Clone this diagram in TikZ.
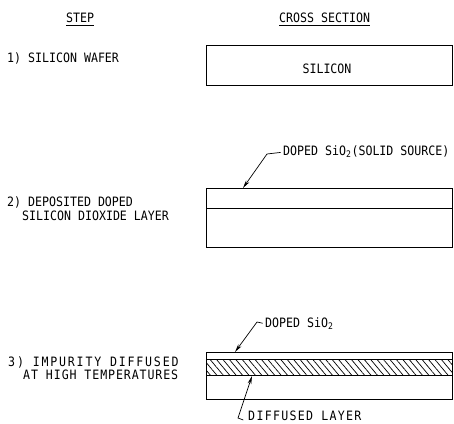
\documentclass[tikz,border=0pt]{standalone}
\usepackage{fontspec}
\setmainfont[FakeStretch=0.9]{DejaVu Sans Mono}
\usetikzlibrary{arrows.meta,patterns.meta}

\tikzset{
  lbl/.style={anchor=base west,inner sep=0pt,font=\fontsize{11}{12}\selectfont},
  layer/.style={draw,line width=0.8pt},
  leader/.style={line width=0.6pt,-{Stealth[length=7pt,width=3.2pt]}},
}

\begin{document}
\begin{tikzpicture}[x=0.03cm,y=-0.03cm]
  \useasboundingbox (0,0) rectangle (454,423);

  % Headings
  \node[lbl] (step) at (66,23) {\underline{STEP}};
  \node[lbl] (cross) at (279,23) {\underline{CROSS SECTION}};

  % Step 1: wafer
  \node[lbl] (s1) at (7,63) {1) SILICON WAFER};
  \draw[layer] (206,45) rectangle (452,85);
  \node[lbl,anchor=base] (si) at (327,74) {SILICON};

  % Step 2: deposited oxide
  \node[lbl] (s2a) at (7,206) {2) DEPOSITED DOPED};
  \node[lbl] (s2b) at (22,220) {SILICON DIOXIDE LAYER};
  \draw[layer] (206,188) rectangle (452,247);
  \draw[layer] (206,208) -- (452,208);
  \node[lbl] (ox2) at (283,155) {DOPED SiO\textsubscript{2}(SOLID SOURCE)};
  \coordinate (k2) at (267,154);
  \coordinate (tip2) at (243,188);
  \draw[leader] ([xshift=-2pt,yshift=-1pt]ox2.west) -- (k2) -- (tip2);

  % Step 3: diffusion
  \node[lbl,font={\fontsize{11}{12}\selectfont\addfontfeatures{LetterSpace=14}}] (s3a) at (8,366) {3) IMPURITY DIFFUSED};
  \node[lbl,font={\fontsize{11}{12}\selectfont\addfontfeatures{LetterSpace=7}}] (s3b) at (23,379) {AT HIGH TEMPERATURES};
  \pattern[pattern={Lines[angle=-50,distance=4.2pt,line width=0.6pt]}] (206,359) rectangle (452,375);
  \draw[layer] (206,352) rectangle (452,399);
  \draw[layer] (206,359) -- (452,359);
  \draw[layer] (206,375) -- (452,375);
  \node[lbl] (ox3) at (265,327) {DOPED SiO\textsubscript{2}};
  \coordinate (k3) at (257,322);
  \coordinate (tip3) at (235,352);
  \draw[leader] ([xshift=-2pt]ox3.west) -- (k3) -- (tip3);
  \node[lbl,font={\fontsize{11}{12}\selectfont\addfontfeatures{LetterSpace=10}}] (dl) at (248,420) {DIFFUSED LAYER};
  \coordinate (k4) at (238,418);
  \coordinate (tip4) at (252,376);
  \draw[leader] ([xshift=-4pt]dl.base west) -- (k4) -- (tip4);
\end{tikzpicture}
\end{document}
